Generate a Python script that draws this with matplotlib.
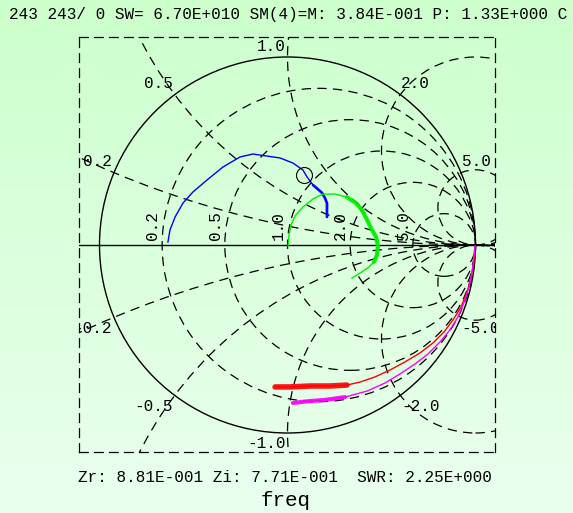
import numpy as np
import matplotlib

matplotlib.use("Agg")
import matplotlib.pyplot as plt
from matplotlib.patches import Circle

# header / footer readouts
header = "243 243/ 0 SW= 6.70E+010 SM(4)=M: 3.84E-001 P: 1.33E+000 C"
footer = "Zr: 8.81E-001 Zi: 7.71E-001  SWR: 2.25E+000"
xlabel = "freq"

# marker impedance (normalised)
marker_zr = 0.881
marker_zi = 0.771

# grid values
resistances = [0.2, 0.5, 1.0, 2.0, 5.0]
reactances = [0.2, 0.5, 1.0, 2.0, 5.0]

# traces as reflection coefficient (re, im)
blue_re = [-0.636, -0.625, -0.598, -0.556, -0.503, -0.428, -0.343, -0.253, -0.184, -0.109,
           -0.040, 0.029, 0.082, 0.104, 0.136, 0.184, 0.199, 0.210, 0.210]
blue_im = [0.016, 0.080, 0.149, 0.223, 0.282, 0.346, 0.415, 0.468, 0.484, 0.473,
           0.463, 0.436, 0.399, 0.362, 0.319, 0.277, 0.250, 0.223, 0.149]

green_re = [0.003, 0.008, 0.019, 0.040, 0.082, 0.136, 0.189, 0.253, 0.316, 0.364,
            0.396, 0.418, 0.444, 0.471, 0.481, 0.476, 0.460, 0.428, 0.386, 0.343]
green_im = [-0.005, 0.053, 0.106, 0.154, 0.202, 0.245, 0.271, 0.271, 0.255, 0.223,
            0.186, 0.144, 0.090, 0.043, -0.005, -0.053, -0.090, -0.122, -0.149, -0.176]

red_re = [0.997, 0.992, 0.976, 0.955, 0.923, 0.880, 0.832, 0.774, 0.705, 0.625,
          0.545, 0.465, 0.386, 0.316, 0.226, 0.120, 0.013, -0.066]
red_im = [-0.005, -0.090, -0.176, -0.250, -0.330, -0.399, -0.463, -0.521, -0.574, -0.622,
          -0.665, -0.702, -0.729, -0.745, -0.750, -0.750, -0.755, -0.755]

magenta_re = [0.997, 0.987, 0.971, 0.944, 0.907, 0.864, 0.811, 0.747, 0.678, 0.598,
              0.519, 0.423, 0.306, 0.199, 0.120, 0.029]
magenta_im = [-0.005, -0.106, -0.202, -0.293, -0.383, -0.452, -0.516, -0.580, -0.633, -0.686,
              -0.734, -0.777, -0.809, -0.824, -0.830, -0.840]

# (first, last, width) index ranges drawn thicker where the trace is noisy
noisy = {"blue": (14, 18, 2.0), "green": (8, 16, 3.0), "red": (13, 17, 4.0), "magenta": (12, 15, 3.0)}

W, H = 573, 513
fig = plt.figure(figsize=(W / 100, H / 100), dpi=100)

# background gradient
bg = fig.add_axes([0, 0, 1, 1], zorder=-10)
top = np.array([204, 255, 204]) / 255
bot = np.array([234, 255, 238]) / 255
t = np.linspace(0, 1, 256)[:, None, None]
bg.imshow(top * (1 - t) + bot * t, aspect="auto", extent=[0, 1, 0, 1])
bg.axis("off")

# main axes: dashed box from px 79..495, 37..452; chart centre (287.5, 245), radius 188
scale = 188.0
cx, cy = 287.5, 245.0
bl, br, bt, bb = 79, 495, 37, 452
ax = fig.add_axes([bl / W, (H - bb) / H, (br - bl) / W, (bb - bt) / H])
ax.set_facecolor("none")
ax.set_xlim((bl - cx) / scale, (br - cx) / scale)
ax.set_ylim((cy - bb) / scale, (cy - bt) / scale)
ax.set_xticks([])
ax.set_yticks([])
for sp in ax.spines.values():
    sp.set_linestyle((0, (7, 5)))
    sp.set_linewidth(0.9)

dash = (0, (7.5, 5))
for r in resistances:
    ax.add_patch(Circle((r / (1 + r), 0), 1 / (1 + r), fill=False, ls=dash, lw=0.9, ec="black"))
for x in reactances:
    for s in (1, -1):
        ax.add_patch(Circle((1, s / x), 1 / x, fill=False, ls=dash, lw=0.9, ec="black"))

ax.add_patch(Circle((0, 0), 1, fill=False, lw=1.0, ec="black"))
ax.axhline(0, color="black", lw=1.0)

mono = "Liberation Mono"
fs = 11.5

# resistance labels along the real axis
for r in resistances:
    ax.annotate(f"{r:.1f}", ((r - 1) / (r + 1), 0), xytext=(-1.5, 3.5), textcoords="offset points",
                rotation=90, ha="right", va="bottom", family=mono, fontsize=fs)

# reactance labels at the rim
for x in reactances:
    for s in (1, -1):
        z = complex(0, s * x)
        g = (z - 1) / (z + 1)
        ha = "right" if x <= 1 else "left"
        dx = -1.5 if x <= 1 else 0.5
        va = "bottom" if s > 0 else "top"
        dy = 2.5 if s > 0 else -2.5
        ax.annotate(f"{s * x:.1f}", (g.real, g.imag), xytext=(dx, dy), textcoords="offset points",
                    ha=ha, va=va, family=mono, fontsize=fs, annotation_clip=False, clip_on=True)

traces = [("blue", blue_re, blue_im, "#0000ff"), ("green", green_re, green_im, "#00ee00"),
          ("red", red_re, red_im, "#ff0000"), ("magenta", magenta_re, magenta_im, "#ff00ff")]
for name, re_, im_, color in traces:
    ax.plot(re_, im_, color=color, lw=1.0, solid_joinstyle="round")
    a, b, w = noisy[name]
    ax.plot(re_[a:b + 1], im_[a:b + 1], color=color, lw=w, alpha=0.9, solid_capstyle="round")

zm = complex(marker_zr, marker_zi)
gm = (zm - 1) / (zm + 1)
ax.plot([gm.real], [gm.imag], marker="o", ms=11.5, mfc="none", mec="black", mew=0.8)

fig.text(9 / W, 1 - 14 / H, header, family=mono, fontsize=fs, va="center", ha="left")
fig.text(78 / W, 1 - 477 / H, footer, family=mono, fontsize=fs, va="center", ha="left")
fig.text(286 / W, 1 - 501 / H, xlabel, family=mono, fontsize=15, va="center", ha="center")

fig.savefig("out.png", dpi=100)
